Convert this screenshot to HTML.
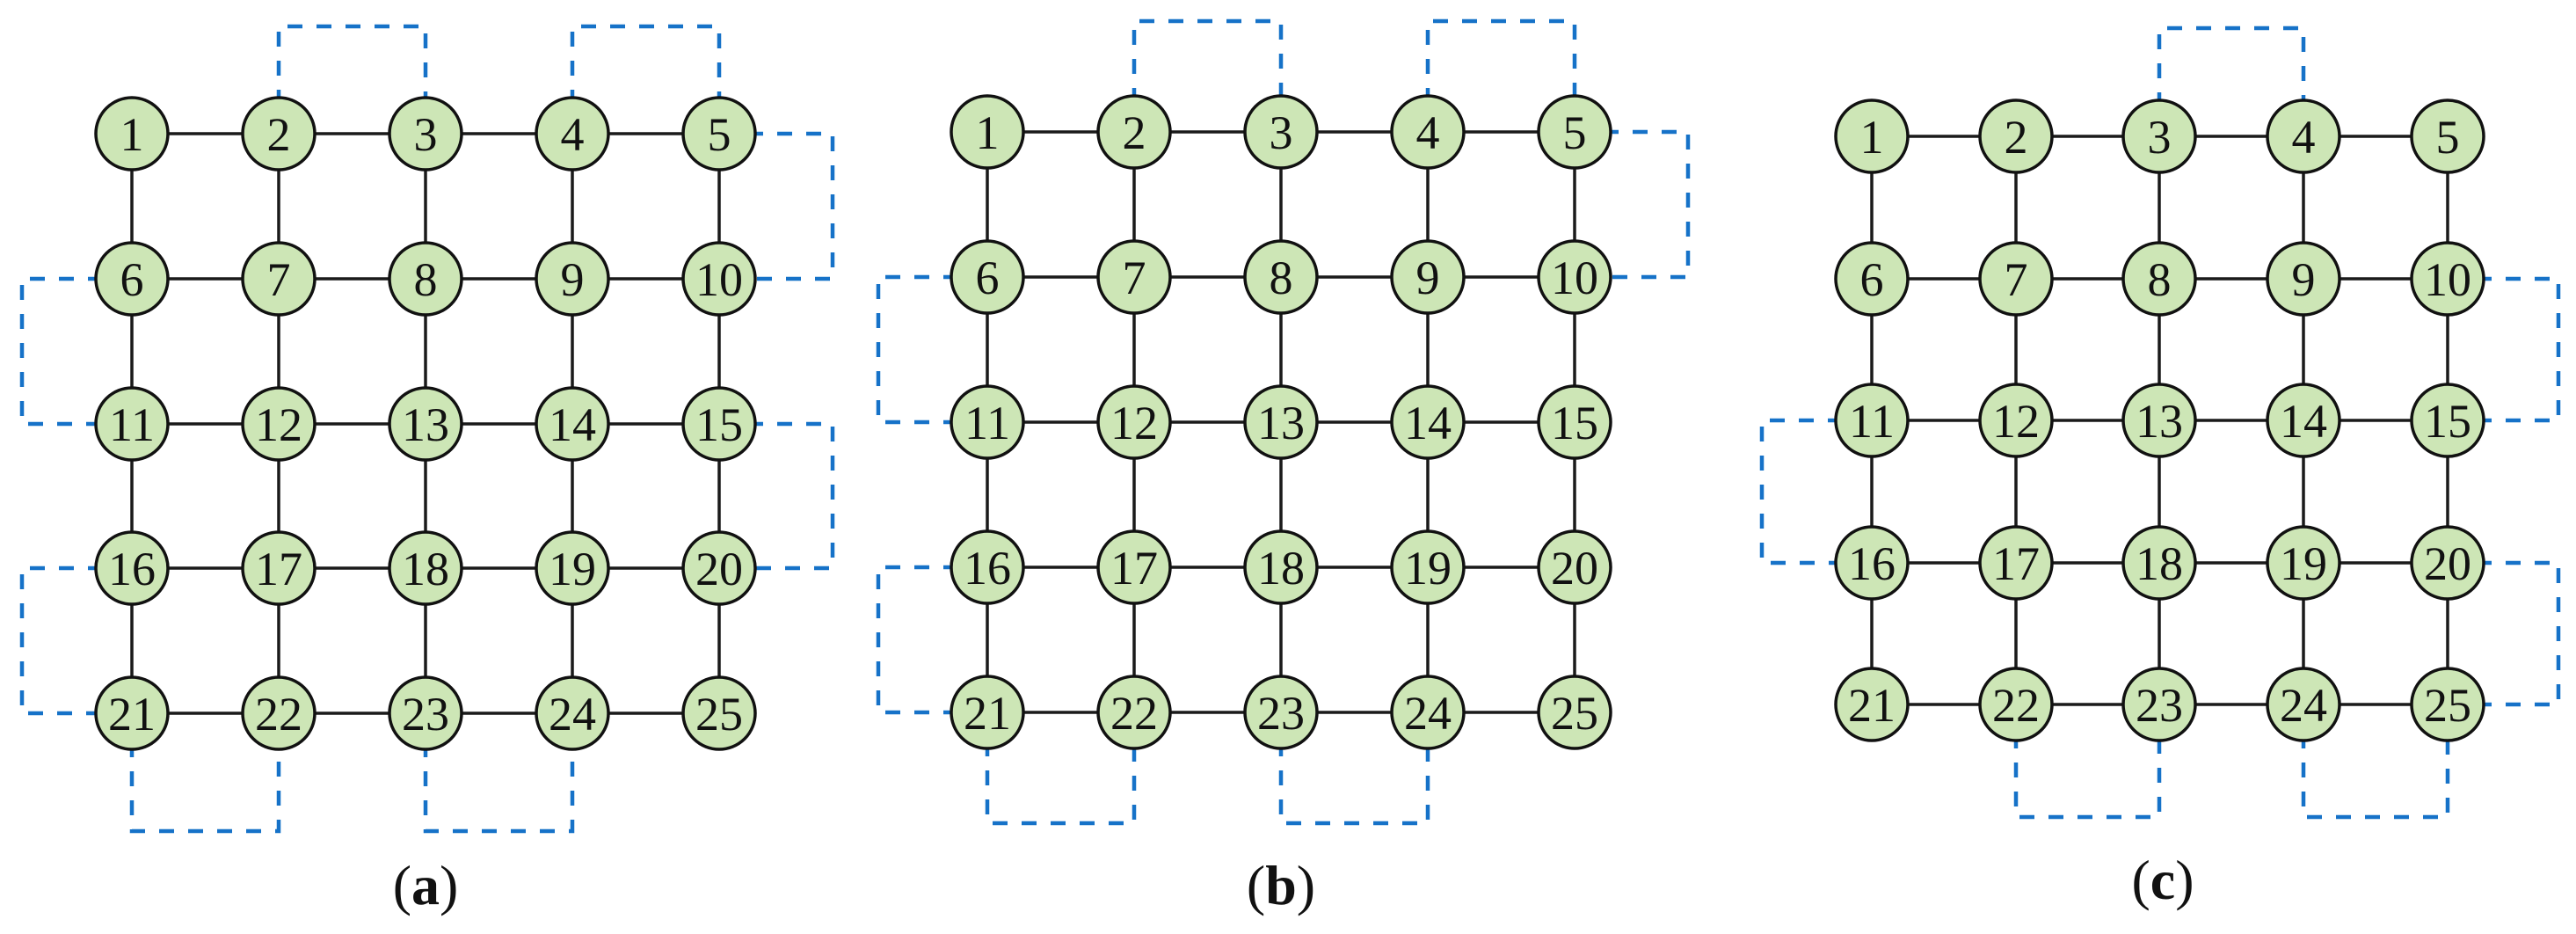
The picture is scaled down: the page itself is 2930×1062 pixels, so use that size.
<!DOCTYPE html>
<html><head><meta charset="utf-8"><style>
html,body{margin:0;padding:0;background:#fff}
svg{display:block}
.g{stroke:#1a1a1a;stroke-width:3.5;fill:none}
.d{stroke:#1672c8;stroke-width:4.5;fill:none;stroke-dasharray:17 16}
text{font-family:"Liberation Serif",serif;font-size:54px;fill:#111;text-anchor:middle}
.l{font-size:64px}
</style></head><body>
<svg width="2930" height="1062" viewBox="0 0 2930 1062" xmlns="http://www.w3.org/2000/svg">
<defs><circle id="n" r="41" fill="#cde6b6" stroke="#111" stroke-width="3.5"/></defs>
<!-- dashed -->
<path class="d" d="M317,152 V30 H484 V152 M651,152 V30 H818 V152 M818,152 H947 V317 H818 M150,317 H25 V482 H150 M818,482 H947 V646 H818 M150,646 H25 V811 H150 M150,811 V945 H317 V811 M484,811 V945 H651 V811"/>
<path class="d" d="M1290,150 V24 H1457 V150 M1624,150 V24 H1791 V150 M1791,150 H1920 V315 H1791 M1123,315 H999 V480 H1123 M1123,645 H999 V810 H1123 M1123,810 V936 H1290 V810 M1457,810 V936 H1624 V810"/>
<path class="d" d="M2456,155 V32 H2620 V155 M2784,317 H2910 V478 H2784 M2129,478 H2004 V640 H2129 M2784,640 H2910 V801 H2784 M2293,801 V929 H2456 V801 M2620,801 V929 H2784 V801"/>
<!-- grids -->
<path class="g" d="M150,152H818M150,317H818M150,482H818M150,646H818M150,811H818M150,152V811M317,152V811M484,152V811M651,152V811M818,152V811"/>
<path class="g" d="M1123,150H1791M1123,315H1791M1123,480H1791M1123,645H1791M1123,810H1791M1123,150V810M1290,150V810M1457,150V810M1624,150V810M1791,150V810"/>
<path class="g" d="M2129,155H2784M2129,317H2784M2129,478H2784M2129,640H2784M2129,801H2784M2129,155V801M2293,155V801M2456,155V801M2620,155V801M2784,155V801"/>
<!-- panel a -->
<use href="#n" x="150" y="152"/><use href="#n" x="317" y="152"/><use href="#n" x="484" y="152"/><use href="#n" x="651" y="152"/><use href="#n" x="818" y="152"/>
<use href="#n" x="150" y="317"/><use href="#n" x="317" y="317"/><use href="#n" x="484" y="317"/><use href="#n" x="651" y="317"/><use href="#n" x="818" y="317"/>
<use href="#n" x="150" y="482"/><use href="#n" x="317" y="482"/><use href="#n" x="484" y="482"/><use href="#n" x="651" y="482"/><use href="#n" x="818" y="482"/>
<use href="#n" x="150" y="646"/><use href="#n" x="317" y="646"/><use href="#n" x="484" y="646"/><use href="#n" x="651" y="646"/><use href="#n" x="818" y="646"/>
<use href="#n" x="150" y="811"/><use href="#n" x="317" y="811"/><use href="#n" x="484" y="811"/><use href="#n" x="651" y="811"/><use href="#n" x="818" y="811"/>
<text x="150" y="171">1</text><text x="317" y="171">2</text><text x="484" y="171">3</text><text x="651" y="171">4</text><text x="818" y="171">5</text>
<text x="150" y="336">6</text><text x="317" y="336">7</text><text x="484" y="336">8</text><text x="651" y="336">9</text><text x="818" y="336">10</text>
<text x="150" y="501">11</text><text x="317" y="501">12</text><text x="484" y="501">13</text><text x="651" y="501">14</text><text x="818" y="501">15</text>
<text x="150" y="665">16</text><text x="317" y="665">17</text><text x="484" y="665">18</text><text x="651" y="665">19</text><text x="818" y="665">20</text>
<text x="150" y="830">21</text><text x="317" y="830">22</text><text x="484" y="830">23</text><text x="651" y="830">24</text><text x="818" y="830">25</text>
<!-- panel b -->
<use href="#n" x="1123" y="150"/><use href="#n" x="1290" y="150"/><use href="#n" x="1457" y="150"/><use href="#n" x="1624" y="150"/><use href="#n" x="1791" y="150"/>
<use href="#n" x="1123" y="315"/><use href="#n" x="1290" y="315"/><use href="#n" x="1457" y="315"/><use href="#n" x="1624" y="315"/><use href="#n" x="1791" y="315"/>
<use href="#n" x="1123" y="480"/><use href="#n" x="1290" y="480"/><use href="#n" x="1457" y="480"/><use href="#n" x="1624" y="480"/><use href="#n" x="1791" y="480"/>
<use href="#n" x="1123" y="645"/><use href="#n" x="1290" y="645"/><use href="#n" x="1457" y="645"/><use href="#n" x="1624" y="645"/><use href="#n" x="1791" y="645"/>
<use href="#n" x="1123" y="810"/><use href="#n" x="1290" y="810"/><use href="#n" x="1457" y="810"/><use href="#n" x="1624" y="810"/><use href="#n" x="1791" y="810"/>
<text x="1123" y="169">1</text><text x="1290" y="169">2</text><text x="1457" y="169">3</text><text x="1624" y="169">4</text><text x="1791" y="169">5</text>
<text x="1123" y="334">6</text><text x="1290" y="334">7</text><text x="1457" y="334">8</text><text x="1624" y="334">9</text><text x="1791" y="334">10</text>
<text x="1123" y="499">11</text><text x="1290" y="499">12</text><text x="1457" y="499">13</text><text x="1624" y="499">14</text><text x="1791" y="499">15</text>
<text x="1123" y="664">16</text><text x="1290" y="664">17</text><text x="1457" y="664">18</text><text x="1624" y="664">19</text><text x="1791" y="664">20</text>
<text x="1123" y="829">21</text><text x="1290" y="829">22</text><text x="1457" y="829">23</text><text x="1624" y="829">24</text><text x="1791" y="829">25</text>
<!-- panel c -->
<use href="#n" x="2129" y="155"/><use href="#n" x="2293" y="155"/><use href="#n" x="2456" y="155"/><use href="#n" x="2620" y="155"/><use href="#n" x="2784" y="155"/>
<use href="#n" x="2129" y="317"/><use href="#n" x="2293" y="317"/><use href="#n" x="2456" y="317"/><use href="#n" x="2620" y="317"/><use href="#n" x="2784" y="317"/>
<use href="#n" x="2129" y="478"/><use href="#n" x="2293" y="478"/><use href="#n" x="2456" y="478"/><use href="#n" x="2620" y="478"/><use href="#n" x="2784" y="478"/>
<use href="#n" x="2129" y="640"/><use href="#n" x="2293" y="640"/><use href="#n" x="2456" y="640"/><use href="#n" x="2620" y="640"/><use href="#n" x="2784" y="640"/>
<use href="#n" x="2129" y="801"/><use href="#n" x="2293" y="801"/><use href="#n" x="2456" y="801"/><use href="#n" x="2620" y="801"/><use href="#n" x="2784" y="801"/>
<text x="2129" y="174">1</text><text x="2293" y="174">2</text><text x="2456" y="174">3</text><text x="2620" y="174">4</text><text x="2784" y="174">5</text>
<text x="2129" y="336">6</text><text x="2293" y="336">7</text><text x="2456" y="336">8</text><text x="2620" y="336">9</text><text x="2784" y="336">10</text>
<text x="2129" y="497">11</text><text x="2293" y="497">12</text><text x="2456" y="497">13</text><text x="2620" y="497">14</text><text x="2784" y="497">15</text>
<text x="2129" y="659">16</text><text x="2293" y="659">17</text><text x="2456" y="659">18</text><text x="2620" y="659">19</text><text x="2784" y="659">20</text>
<text x="2129" y="820">21</text><text x="2293" y="820">22</text><text x="2456" y="820">23</text><text x="2620" y="820">24</text><text x="2784" y="820">25</text>
<!-- labels -->
<text class="l" x="484" y="1028">(<tspan font-weight="bold">a</tspan>)</text>
<text class="l" x="1457" y="1028">(<tspan font-weight="bold">b</tspan>)</text>
<text class="l" x="2460" y="1022">(<tspan font-weight="bold">c</tspan>)</text>
</svg>
</body></html>
